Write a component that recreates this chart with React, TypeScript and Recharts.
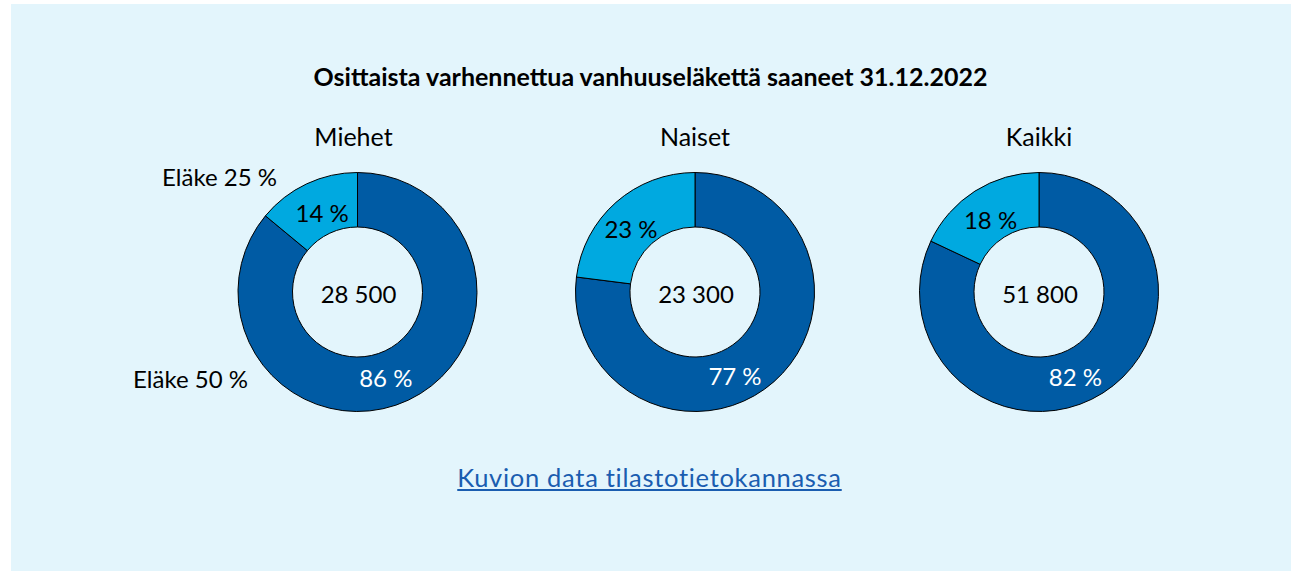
import React from 'react';
import { PieChart, Pie, Cell, Customized } from 'recharts';

const TITLE = 'Osittaista varhennettua vanhuuseläkettä saaneet 31.12.2022';
const GROUPS = ['Miehet', 'Naiset', 'Kaikki'];
const TOTALS = ['28 500', '23 300', '51 800'];
const SERIES = ['Eläke 50 %', 'Eläke 25 %'];
const SHARE_50 = [86, 77, 82];
const SHARE_25 = [14, 23, 18];
const LINK_TEXT = 'Kuvion data tilastotietokannassa';

const COLORS = ['#005ba4', '#00a9e0'];
const LABEL_COLORS = ['#ffffff', '#000000'];
const FONT = 'Lato, "Open Sans", sans-serif';

// layout (px)
const W = 1299;
const H = 571;
const CENTER_X = [357.5, 695, 1039];
const CENTER_Y = 292;
const INNER_R = 65;
const OUTER_R = 119.5;
const LABEL_NUDGE = [
  [[-11, 2], [4, 4]],
  [[-21, 14], [-3, 6]],
  [[-13, 7], [1, 5]],
];

const RADIAN = Math.PI / 180;

const makeLabel = (pieIdx: number) => (props: any) => {
  const { cx, cy, midAngle, innerRadius, outerRadius, index, value } = props;
  const r = (innerRadius + outerRadius) / 2;
  const x = cx + r * Math.cos(-midAngle * RADIAN) + LABEL_NUDGE[pieIdx][index][0];
  const y = cy + r * Math.sin(-midAngle * RADIAN) + LABEL_NUDGE[pieIdx][index][1];
  return (
    <text
      x={x}
      y={y}
      fill={LABEL_COLORS[index]}
      textAnchor="middle"
      dominantBaseline="central"
      fontSize={24}
      fontFamily={FONT}
    >
      {`${value} %`}
    </text>
  );
};

const Overlay = () => (
  <g fontFamily={FONT} fill="#000">
    <text x={650.5} y={76} textAnchor="middle" dominantBaseline="central" fontSize={25} fontWeight={700}>
      {TITLE}
    </text>
    {GROUPS.map((g, i) => (
      <text key={g} x={CENTER_X[i] - (i === 0 ? 4 : 0)} y={136} textAnchor="middle" dominantBaseline="central" fontSize={25}>
        {g}
      </text>
    ))}
    {TOTALS.map((t, i) => (
      <text key={t} x={CENTER_X[i] + 1} y={293} textAnchor="middle" dominantBaseline="central" fontSize={24}>
        {t}
      </text>
    ))}
    <text x={277} y={176} textAnchor="end" dominantBaseline="central" fontSize={24}>
      {SERIES[1]}
    </text>
    <text x={248} y={378} textAnchor="end" dominantBaseline="central" fontSize={24}>
      {SERIES[0]}
    </text>
  </g>
);

export default function App() {
  return (
    <div style={{ position: 'absolute', left: 0, top: 0, width: W, height: H, background: '#ffffff' }}>
      <div style={{ position: 'absolute', left: 11, top: 4, width: 1280, height: H - 4, background: '#e3f5fc' }} />
      <div style={{ position: 'absolute', left: 0, top: 0 }}>
        <PieChart width={W} height={H} margin={{ top: 0, right: 0, bottom: 0, left: 0 }}>
          {GROUPS.map((g, i) => {
            const data = [
              { name: SERIES[0], value: SHARE_50[i] },
              { name: SERIES[1], value: SHARE_25[i] },
            ];
            return (
              <Pie
                key={g}
                data={data}
                dataKey="value"
                nameKey="name"
                cx={CENTER_X[i]}
                cy={CENTER_Y}
                innerRadius={INNER_R}
                outerRadius={OUTER_R}
                startAngle={90}
                endAngle={-270}
                stroke="#000"
                strokeWidth={1}
                label={makeLabel(i)}
                labelLine={false}
                isAnimationActive={false}
              >
                {data.map((d, j) => (
                  <Cell key={d.name} fill={COLORS[j]} stroke="#000" strokeWidth={1} />
                ))}
              </Pie>
            );
          })}
          <Customized component={Overlay} />
        </PieChart>
      </div>
      <div
        style={{
          position: 'absolute',
          left: 0,
          width: W,
          top: 462,
          textAlign: 'center',
          fontFamily: FONT,
          fontSize: 25.5,
          letterSpacing: '0.7px',
          lineHeight: '30px',
          color: '#1a5db0',
          textDecoration: 'underline',
        }}
      >
        <span style={{ cursor: 'pointer' }}>{LINK_TEXT}</span>
      </div>
    </div>
  );
}
